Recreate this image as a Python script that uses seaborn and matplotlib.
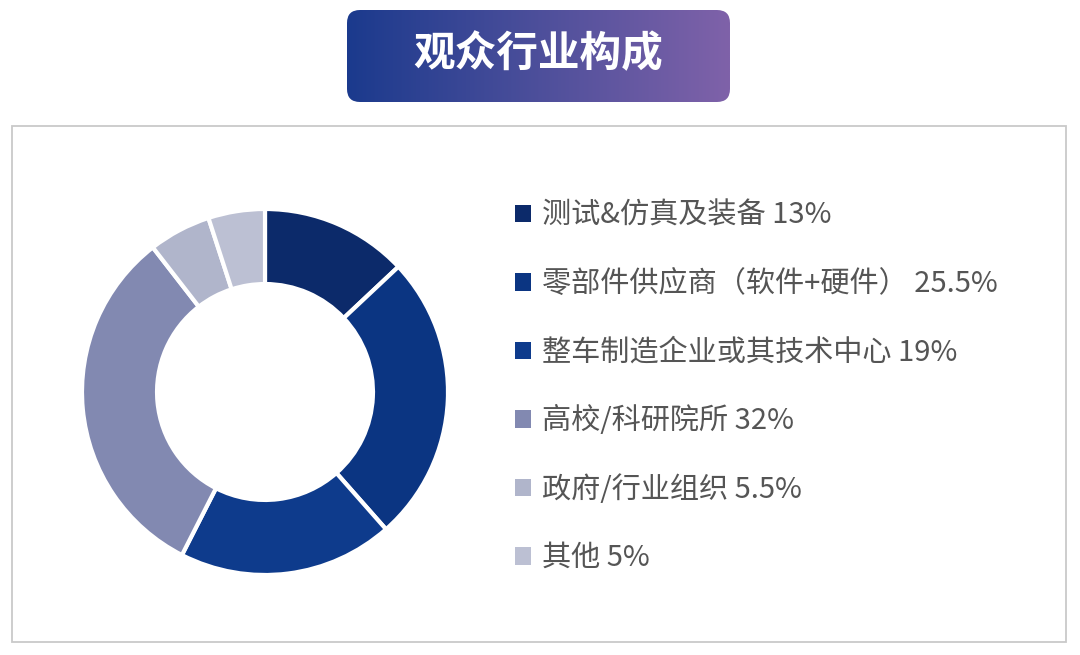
import numpy as np
import matplotlib
matplotlib.use("Agg")
import matplotlib.pyplot as plt
import seaborn as sns
from matplotlib.patches import FancyBboxPatch, Rectangle
from matplotlib.colors import LinearSegmentedColormap

# data
categories = ["测试&仿真及装备", "零部件供应商（软件+硬件）", "整车制造企业或其技术中心",
              "高校/科研院所", "政府/行业组织", "其他"]
shares = [13, 25.5, 19, 32, 5.5, 5]
colors = ["#0c2a6a", "#0b3582", "#0e3b8c", "#8289b1", "#b0b5cb", "#bcc0d3"]
title = "观众行业构成"

sns.set_theme(style="white")
plt.rcParams["font.family"] = ["Noto Sans CJK SC", "DejaVu Sans"]

fig = plt.figure(figsize=(10.8, 6.55), dpi=100)

# grey frame round the chart
fig.patches.append(Rectangle((12 / 1080, 13 / 655), 1054 / 1080, 516 / 655,
                             transform=fig.transFigure, fill=False,
                             edgecolor="#c9c9c9", linewidth=1.3))

# gradient title banner (axes units = pixels)
bw, bh = 383, 92
bax = fig.add_axes([347 / 1080, 553 / 655, bw / 1080, bh / 655])
bax.set_xlim(0, bw)
bax.set_ylim(0, bh)
bax.axis("off")
cmap = LinearSegmentedColormap.from_list("banner", ["#1b3a8d", "#4d4f9b", "#7f62a9"])
grad = np.linspace(0, 1, 256).reshape(1, -1)
im = bax.imshow(grad, cmap=cmap, extent=[0, bw, 0, bh], aspect="auto")
box = FancyBboxPatch((0, 0), bw, bh, boxstyle="round,pad=0,rounding_size=13",
                     transform=bax.transData, facecolor="none", edgecolor="none")
bax.add_patch(box)
im.set_clip_path(box)
bax.text(bw / 2, bh / 2 + 2, title, color="white", fontsize=30, fontweight="bold",
         ha="center", va="center")

# donut
ax = fig.add_axes([82 / 1080, 80 / 655, 366 / 1080, 366 / 655])
wedges, _ = ax.pie(shares, colors=colors, startangle=90, counterclock=False,
                   wedgeprops=dict(width=0.41, edgecolor="white", linewidth=3))
ax.set_xlim(-1, 1)
ax.set_ylim(-1, 1)
ax.set_aspect("equal")

labels = [f"{c} {v:g}%" for c, v in zip(categories, shares)]
leg = fig.legend(wedges, labels, loc="upper left",
                 bbox_to_anchor=(503 / 1080, 1 - 189 / 655),
                 frameon=False, fontsize=21, labelcolor="#555555",
                 handlelength=0.55, handleheight=0.55, handletextpad=0.4,
                 labelspacing=1.32, borderaxespad=0)
for h in leg.legend_handles:
    h.set_linewidth(0)

fig.savefig("out.png", dpi=100, facecolor="white")
